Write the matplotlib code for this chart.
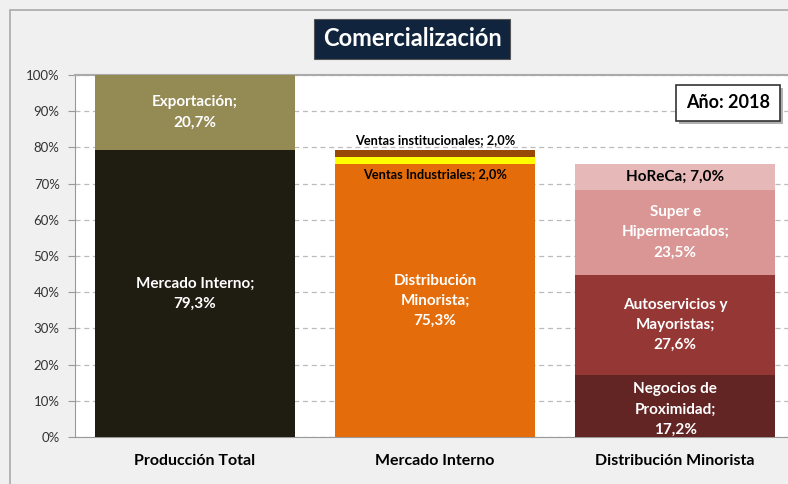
import matplotlib.pyplot as plt
import matplotlib.patches as mpatches
import numpy as np

plt.rcParams['font.family'] = ['Lato', 'DejaVu Sans']

categorias = ["Producción Total", "Mercado Interno", "Distribución Minorista"]

# segmentos de cada barra (de abajo hacia arriba)
seg_produccion = [79.3, 20.7]
etq_produccion = ["Mercado Interno;\n79,3%", "Exportación;\n20,7%"]
col_produccion = ["#1f1c12", "#948a54"]

seg_mercado = [75.3, 2.0, 2.0]
etq_mercado = ["Distribución\nMinorista;\n75,3%", "Ventas Industriales; 2,0%", "Ventas institucionales; 2,0%"]
col_mercado = ["#e46c0a", "#ffff00", "#984807"]

seg_minorista = [17.2, 27.6, 23.5, 7.0]
etq_minorista = ["Negocios de\nProximidad;\n17,2%", "Autoservicios y\nMayoristas;\n27,6%",
                 "Super e\nHipermercados;\n23,5%", "HoReCa; 7,0%"]
col_minorista = ["#632523", "#953735", "#d99694", "#e6b9b8"]

W, H = 788, 484
fig = plt.figure(figsize=(W / 100, H / 100), dpi=100, facecolor="#f0f0f0")
ax = fig.add_axes([75 / W, 1 - 437 / H, 713 / W, 362 / H])
ax.set_facecolor("white")

ancho = 0.833
barras = [(seg_produccion, col_produccion), (seg_mercado, col_mercado), (seg_minorista, col_minorista)]
for i, (segs, cols) in enumerate(barras):
    base = 0
    for v, c in zip(segs, cols):
        ax.bar(i, v, bottom=base, width=ancho, color=c, zorder=3)
        base += v

# etiquetas
def centro(segs, k):
    return sum(segs[:k]) + segs[k] / 2

fs = 11
ls = 1.55
ax.text(0, centro(seg_produccion, 0), etq_produccion[0], ha="center", va="center",
        color="white", fontsize=fs, fontweight="bold", zorder=4, linespacing=ls)
ax.text(0, centro(seg_produccion, 1), etq_produccion[1], ha="center", va="center",
        color="white", fontsize=fs, fontweight="bold", zorder=4, linespacing=ls)

ax.text(1, centro(seg_mercado, 0), etq_mercado[0], ha="center", va="center",
        color="white", fontsize=fs, fontweight="bold", zorder=4, linespacing=ls)
ax.text(1, 72.6, etq_mercado[1], ha="center", va="center",
        color="black", fontsize=9.2, fontweight="bold", zorder=4)
ax.text(1, 81.9, etq_mercado[2], ha="center", va="center",
        color="black", fontsize=9.2, fontweight="bold", zorder=4)

for k in range(3):
    ax.text(2, centro(seg_minorista, k) - (1.0 if k == 0 else 0), etq_minorista[k],
            ha="center", va="center", color="white", fontsize=fs, fontweight="bold",
            zorder=4, linespacing=ls)
ax.text(2, centro(seg_minorista, 3), etq_minorista[3], ha="center", va="center",
        color="black", fontsize=fs, fontweight="bold", zorder=4)

ax.set_xlim(-0.5, 2.47)
ax.set_ylim(0, 100)
ax.set_yticks(np.arange(0, 101, 10))
ax.set_yticklabels([f"{v}%" for v in range(0, 101, 10)], fontsize=9.5, color="#333333")
ax.set_xticks(range(3))
ax.set_xticklabels(categorias, fontsize=11.5, fontweight="bold")
ax.tick_params(axis="x", length=0, pad=12)
ax.tick_params(axis="y", length=5, color="#999999", direction="out", pad=6)
ax.grid(axis="y", linestyle=(0, (4, 3)), color="#bbbbbb", linewidth=0.9, zorder=0)
ax.spines["right"].set_visible(False)
ax.spines["left"].set_color("#999999")
ax.spines["bottom"].set_color("#999999")
ax.spines["top"].set_color("#aaaaaa")
ax.spines["top"].set_linewidth(1.5)

# título
fig.text(412 / W, 1 - 39 / H, "Comercialización", ha="center", va="center",
         fontsize=17, fontweight="bold", color="white",
         bbox=dict(boxstyle="square,pad=0.35", facecolor="#10243e", edgecolor="#555555", linewidth=0.8))

# recuadro año (sombra + caja)
x0, y0, x1, y1 = 676, 85, 780, 121
fig.add_artist(mpatches.Rectangle(((x0 + 3) / W, 1 - (y1 + 3) / H), (x1 - x0) / W, (y1 - y0) / H,
                                  transform=fig.transFigure, facecolor="#b0b0b0", edgecolor="none", zorder=5))
fig.add_artist(mpatches.Rectangle((x0 / W, 1 - y1 / H), (x1 - x0) / W, (y1 - y0) / H,
                                  transform=fig.transFigure, facecolor="white", edgecolor="#333333",
                                  linewidth=1.2, zorder=6))
fig.text((x0 + x1) / 2 / W, 1 - (y0 + y1) / 2 / H, "Año: 2018", ha="center", va="center",
         fontsize=13, fontweight="bold", color="black", zorder=7)

# marco exterior
fig.add_artist(mpatches.Rectangle((10 / W, -0.05), 1.0, 1 - 10 / H + 0.05, transform=fig.transFigure,
                                  fill=False, edgecolor="#aaaaaa", linewidth=1.2))

fig.savefig("out.png", dpi=100, facecolor=fig.get_facecolor())
